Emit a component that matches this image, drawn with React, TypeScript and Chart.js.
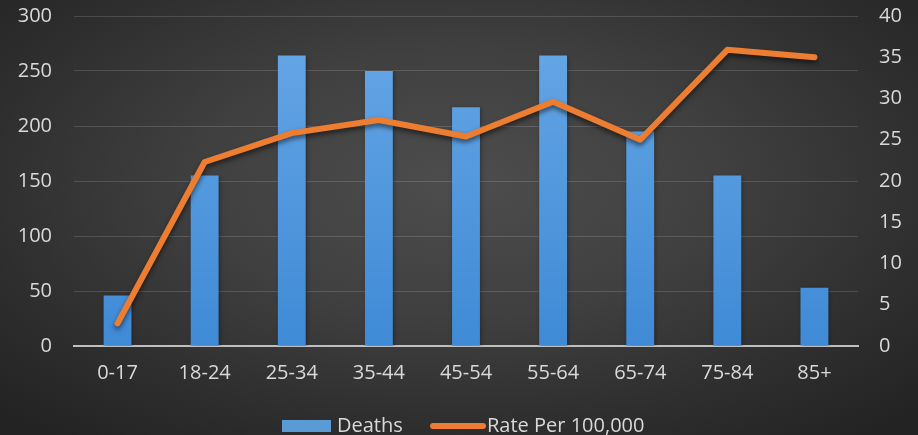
import React, { useEffect, useRef } from "react";
import { Chart, registerables } from "chart.js";

Chart.register(...registerables);

const ageGroups = ["0-17", "18-24", "25-34", "35-44", "45-54", "55-64", "65-74", "75-84", "85+"];
const deaths = [46, 155, 264, 250, 217, 264, 195, 155, 53];
const ratePer100k = [2.75, 22.3, 25.8, 27.4, 25.4, 29.6, 25.0, 35.9, 35.0];
const deathsTicks = [0, 50, 100, 150, 200, 250, 300];
const rateTicks = [0, 5, 10, 15, 20, 25, 30, 35, 40];

const FONT = "'Open Sans', 'Noto Sans', sans-serif";
const TEXT = "#d9d9d9";
const BLUE = "#5b9bd5";
const ORANGE = "#ed7d31";

// soft drop shadow behind the bars and the rate line
const shadowPlugin = {
  id: "lineShadow",
  beforeDatasetDraw(chart: any, args: any) {
    const ctx = chart.ctx;
    ctx.save();
    if (args.index === 1) {
      ctx.shadowColor = "rgba(0,0,0,0.55)";
      ctx.shadowBlur = 5;
      ctx.shadowOffsetY = 3;
    } else {
      ctx.shadowColor = "rgba(0,0,0,0.35)";
      ctx.shadowBlur = 4;
      ctx.shadowOffsetX = 1;
      ctx.shadowOffsetY = 1;
    }
  },
  afterDatasetDraw(chart: any) {
    chart.ctx.restore();
  },
};

// legend row under the axis: blue box for bars, rounded stroke for the line
const legendPlugin = {
  id: "bottomLegend",
  afterDraw(chart: any) {
    const ctx = chart.ctx;
    ctx.save();
    ctx.font = `20px ${FONT}`;
    ctx.textBaseline = "middle";
    const cy = 426;
    ctx.fillStyle = BLUE;
    ctx.fillRect(282, cy - 6, 49, 12);
    ctx.fillStyle = TEXT;
    ctx.fillText("Deaths", 337, cy);
    ctx.strokeStyle = ORANGE;
    ctx.lineWidth = 6;
    ctx.lineCap = "round";
    ctx.beginPath();
    ctx.moveTo(433, cy);
    ctx.lineTo(483, cy);
    ctx.stroke();
    ctx.fillText("Rate Per 100,000", 487, cy);
    ctx.restore();
  },
};

const noVerticalPad = (s: any, w: number) => {
  s.width = w;
  s.paddingTop = 0;
  s.paddingBottom = 0;
};

export default function App() {
  const canvasRef = useRef<HTMLCanvasElement | null>(null);

  useEffect(() => {
    document.body.style.margin = "0";
    const canvas = canvasRef.current;
    if (!canvas) return;
    const chart = new Chart(canvas, {
      type: "bar",
      data: {
        labels: ageGroups,
        datasets: [
          {
            type: "bar",
            label: "Deaths",
            data: deaths,
            yAxisID: "y",
            order: 2,
            barPercentage: 0.32,
            categoryPercentage: 1,
            backgroundColor: (c: any) => {
              const area = c.chart.chartArea;
              if (!area) return BLUE;
              const g = c.chart.ctx.createLinearGradient(0, area.top, 0, area.bottom);
              g.addColorStop(0, "#68a8e6");
              g.addColorStop(1, "#3f8ad6");
              return g;
            },
            borderWidth: 0,
          },
          {
            type: "line",
            label: "Rate Per 100,000",
            data: ratePer100k,
            yAxisID: "y1",
            order: 1,
            borderColor: ORANGE,
            borderWidth: 6,
            borderCapStyle: "round",
            borderJoinStyle: "round",
            pointRadius: 0,
            tension: 0,
            fill: false,
          },
        ],
      } as any,
      options: {
        animation: false,
        responsive: false,
        maintainAspectRatio: false,
        layout: { padding: { top: 16, bottom: 0, left: 0, right: 0 } },
        plugins: {
          legend: { display: false },
          tooltip: { enabled: false },
        },
        scales: {
          x: {
            grid: { display: false, drawTicks: false },
            border: { display: true, color: "#bfbfbf", width: 2 },
            ticks: { color: TEXT, font: { family: FONT, size: 20 }, padding: 15, maxRotation: 0 },
            afterFit: (s: any) => {
              s.height = 89;
              s.paddingLeft = 0;
              s.paddingRight = 0;
            },
          },
          y: {
            position: "left",
            min: 0,
            max: 300,
            afterBuildTicks: (s: any) => {
              s.ticks = deathsTicks.map((v) => ({ value: v }));
            },
            grid: { color: "rgba(255,255,255,0.14)", lineWidth: 1, drawTicks: false },
            border: { display: false },
            ticks: { color: TEXT, font: { family: FONT, size: 20 }, padding: 22 },
            afterFit: (s: any) => noVerticalPad(s, 74),
          },
          y1: {
            position: "right",
            min: 0,
            max: 40,
            afterBuildTicks: (s: any) => {
              s.ticks = rateTicks.map((v) => ({ value: v }));
            },
            grid: { drawOnChartArea: false, drawTicks: false },
            border: { display: false },
            ticks: { color: TEXT, font: { family: FONT, size: 20 }, padding: 21 },
            afterFit: (s: any) => noVerticalPad(s, 60),
          },
        },
      } as any,
      plugins: [shadowPlugin, legendPlugin],
    });
    return () => chart.destroy();
  }, []);

  return (
    <div
      style={{
        position: "absolute",
        left: 0,
        top: 0,
        width: 918,
        height: 435,
        overflow: "hidden",
        background:
          "radial-gradient(ellipse 70% 75% at 50% 42%, #4d4d4d 0%, #404040 40%, #2e2e2e 75%, #232323 100%)",
      }}
    >
      <canvas ref={canvasRef} width={918} height={435} style={{ display: "block" }} />
    </div>
  );
}
